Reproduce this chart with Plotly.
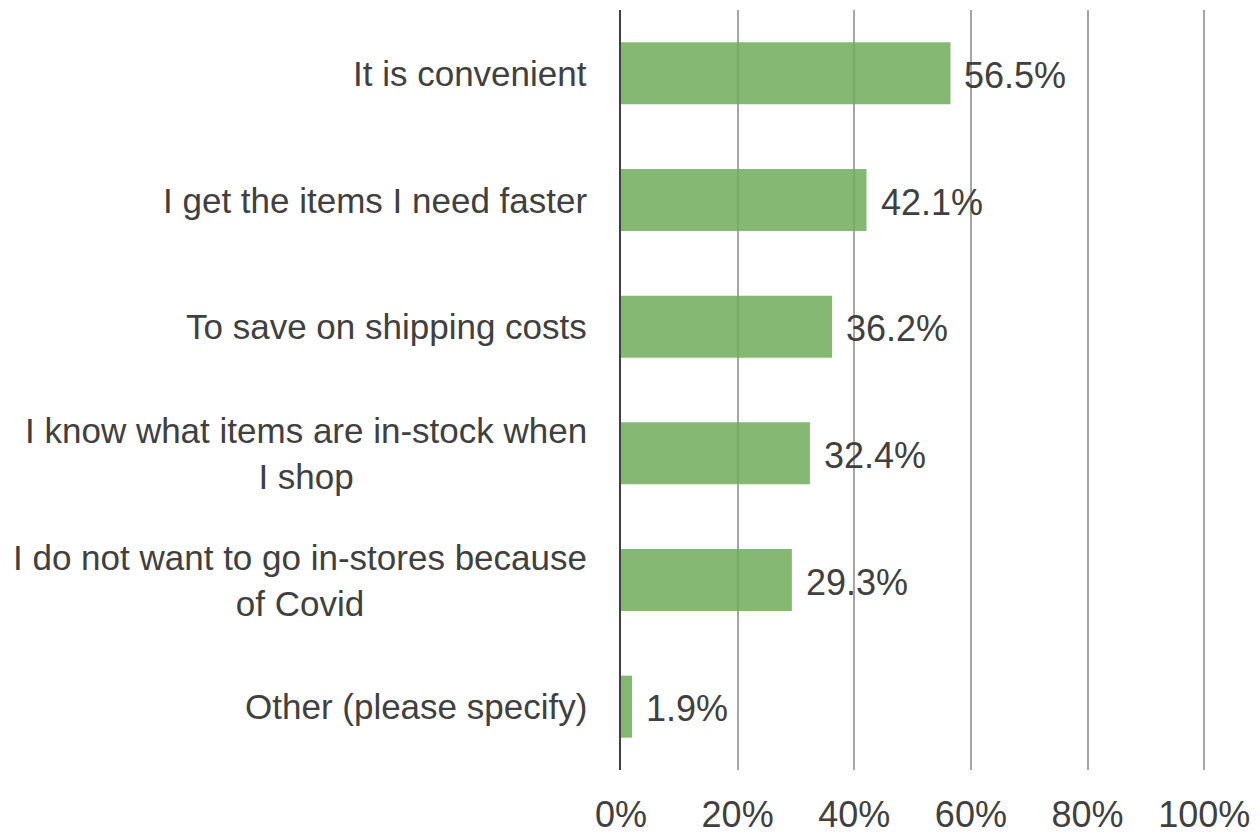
import plotly.graph_objects as go

categories = [
    "It is convenient",
    "I get the items I need faster",
    "To save on shipping costs",
    "I know what items are in-stock when<br>I shop",
    "I do not want to go in-stores because<br>of Covid",
    "Other (please specify)",
]
values = [56.5, 42.1, 36.2, 32.4, 29.3, 1.9]
tick_vals = [0, 20, 40, 60, 80, 100]
tick_text = ["0%", "20%", "40%", "60%", "80%", "100%"]

FONT = "Liberation Sans"
TXT = "#404040"
FS = 35
FSN = 36

fig = go.Figure()
fig.add_trace(go.Bar(
    x=values, y=list(range(len(categories))), orientation="h",
    marker=dict(color="rgba(112,173,90,0.85)", line=dict(width=0)),
    hoverinfo="skip",
))

annotations = []
for i, (c, v) in enumerate(zip(categories, values)):
    annotations.append(dict(
        x=0, xref="paper", y=i, yref="y", text=c, showarrow=False,
        xanchor="right", yanchor="middle", align="center", xshift=-32,
        font=dict(family=FONT, size=FS, color=TXT),
    ))
    annotations.append(dict(
        x=v, xref="x", y=i, yref="y", text=f"{v:.1f}%", showarrow=False,
        xanchor="left", yanchor="middle", xshift=12, yshift=-2,
        font=dict(family=FONT, size=FSN, color=TXT),
    ))

fig.update_layout(
    width=1252, height=827,
    margin=dict(l=613, r=50, t=2, b=65, autoexpand=False),
    paper_bgcolor="white", plot_bgcolor="white",
    showlegend=False,
    bargap=0.51,
    annotations=annotations,
    xaxis=dict(
        range=[0, 101], tickvals=tick_vals, ticktext=tick_text,
        showgrid=True, gridcolor="#A6A6A6", gridwidth=1.6,
        zeroline=False, showline=False, ticks="",
        tickfont=dict(family=FONT, size=FSN, color=TXT),
        ticklabelstandoff=20, fixedrange=True, automargin=False,
    ),
    yaxis=dict(
        range=[len(categories) - 0.5, -0.5],
        showticklabels=False, showgrid=False, zeroline=False,
        showline=True, linecolor="#404040", linewidth=2,
        ticks="", fixedrange=True, automargin=False,
    ),
)

fig.write_html("out.html")
